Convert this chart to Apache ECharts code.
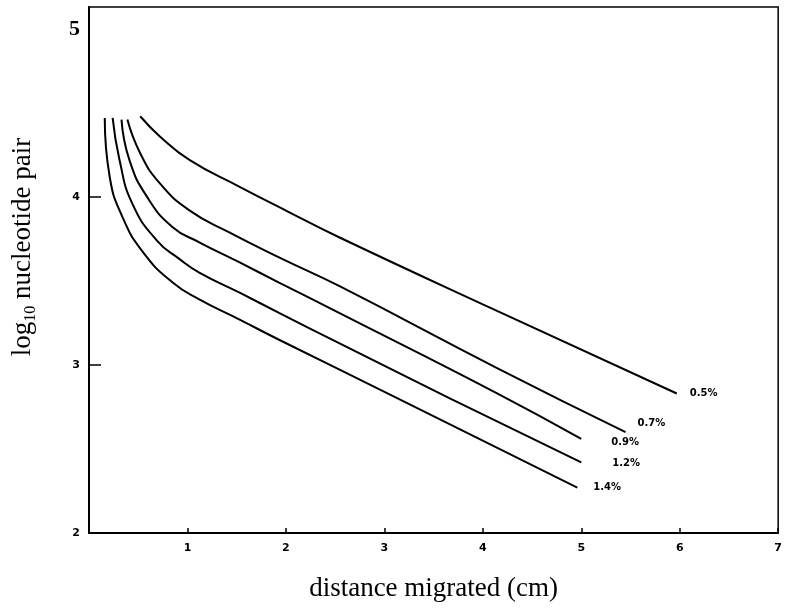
<!DOCTYPE html>
<html>
<head>
<meta charset="utf-8">
<script src="https://cdn.jsdelivr.net/npm/echarts@6/dist/echarts.min.js"></script>
<style>
  html, body { margin: 0; padding: 0; background: #fff; }
  #chart { width: 785px; height: 610px; }
</style>
</head>
<body>
<div id="chart"></div>
<script>
// agarose concentration of each curve
const seriesNames = ['0.5%', '0.7%', '0.9%', '1.2%', '1.4%'];

// [distance migrated (cm), log10 nucleotide pair]
const curve05 = [[0.52, 4.48], [0.72, 4.36], [1.02, 4.22], [1.53, 4.06], [2.03, 3.91], [2.54, 3.76], [4.15, 3.32], [5.97, 2.83]];
const curve07 = [[0.39, 4.46], [0.52, 4.26], [0.72, 4.08], [1.02, 3.92], [1.42, 3.79], [1.93, 3.64], [2.54, 3.47], [4.15, 2.98], [5.45, 2.60]];
const curve09 = [[0.33, 4.46], [0.41, 4.22], [0.59, 4.00], [0.85, 3.82], [1.12, 3.73], [1.53, 3.61], [1.93, 3.49], [2.54, 3.31], [4.15, 2.83], [5.00, 2.56]];
const curve12 = [[0.24, 4.47], [0.31, 4.22], [0.44, 3.96], [0.69, 3.74], [0.92, 3.63], [1.12, 3.55], [1.53, 3.43], [1.93, 3.31], [2.54, 3.13], [3.67, 2.80], [5.00, 2.42]];
const curve14 = [[0.16, 4.47], [0.21, 4.12], [0.34, 3.88], [0.55, 3.67], [0.85, 3.49], [1.12, 3.39], [1.53, 3.27], [1.93, 3.15], [3.14, 2.80], [4.96, 2.27]];

const xTicks = [1, 2, 3, 4, 5, 6, 7];
const yLabels = [2, 3, 4, 5];
const yTicks = [3, 4];

const curves = [curve05, curve07, curve09, curve12, curve14];
// where each end label sits relative to the end of its line
const labelOffsets = [[5, 0], [4, -9], [22, 4], [23, 1], [8, 0]];

const chart = echarts.init(document.getElementById('chart'));

const option = {
  backgroundColor: '#fff',
  animation: false,
  grid: {
    left: 89,
    right: 3,
    top: 7,
    bottom: 77,
    show: true,
    borderColor: '#000',
    borderWidth: 1.5
  },
  xAxis: {
    type: 'value',
    min: 0,
    max: 7,
    interval: 1,
    name: 'distance migrated (cm)',
    nameLocation: 'middle',
    nameGap: 42,
    nameTextStyle: { fontFamily: 'Liberation Serif', fontSize: 27, color: '#000' },
    splitLine: { show: false },
    axisLine: { lineStyle: { color: '#000', width: 2 } },
    axisTick: { inside: true, length: 5, lineStyle: { color: '#000', width: 1.5 }, customValues: xTicks },
    axisLabel: {
      customValues: xTicks,
      margin: 10,
      fontFamily: 'DejaVu Sans',
      fontWeight: 'bold',
      fontSize: 11,
      color: '#000'
    }
  },
  yAxis: {
    type: 'value',
    min: 2,
    max: 5.13,
    name: '{a|log}{s|10}{a| nucleotide pair}',
    nameLocation: 'middle',
    nameGap: 50,
    nameRotate: 90,
    nameTextStyle: {
      color: '#000',
      padding: [0, 0, 0, 46],
      rich: {
        a: { fontFamily: 'Liberation Serif', fontSize: 27, color: '#000', lineHeight: 32 },
        s: { fontFamily: 'Liberation Serif', fontSize: 16, color: '#000', lineHeight: 32, verticalAlign: 'bottom', padding: [10, 0, 0, 0] }
      }
    },
    splitLine: { show: false },
    axisLine: { lineStyle: { color: '#000', width: 2 } },
    axisTick: { inside: true, length: 12, lineStyle: { color: '#000', width: 1.5 }, customValues: yTicks },
    axisLabel: {
      customValues: yLabels,
      margin: 9,
      fontFamily: 'DejaVu Sans',
      fontWeight: 'bold',
      fontSize: 11,
      color: '#000',
      formatter: function (v) {
        return v === 5 ? '{big|5}' : String(v);
      },
      rich: {
        big: { fontFamily: 'Liberation Serif', fontSize: 22, fontWeight: 'bold', color: '#000' }
      }
    }
  },
  series: curves.map(function (d, i) {
    return {
      name: seriesNames[i],
      type: 'line',
      data: d,
      smooth: 0.5,
      showSymbol: false,
      lineStyle: { color: '#000', width: 2 },
      endLabel: {
        show: true,
        formatter: seriesNames[i],
        offset: labelOffsets[i],
        fontFamily: 'DejaVu Sans',
        fontWeight: 'bold',
        fontSize: 10,
        color: '#000'
      }
    };
  })
};

chart.setOption(option);
</script>
</body>
</html>
